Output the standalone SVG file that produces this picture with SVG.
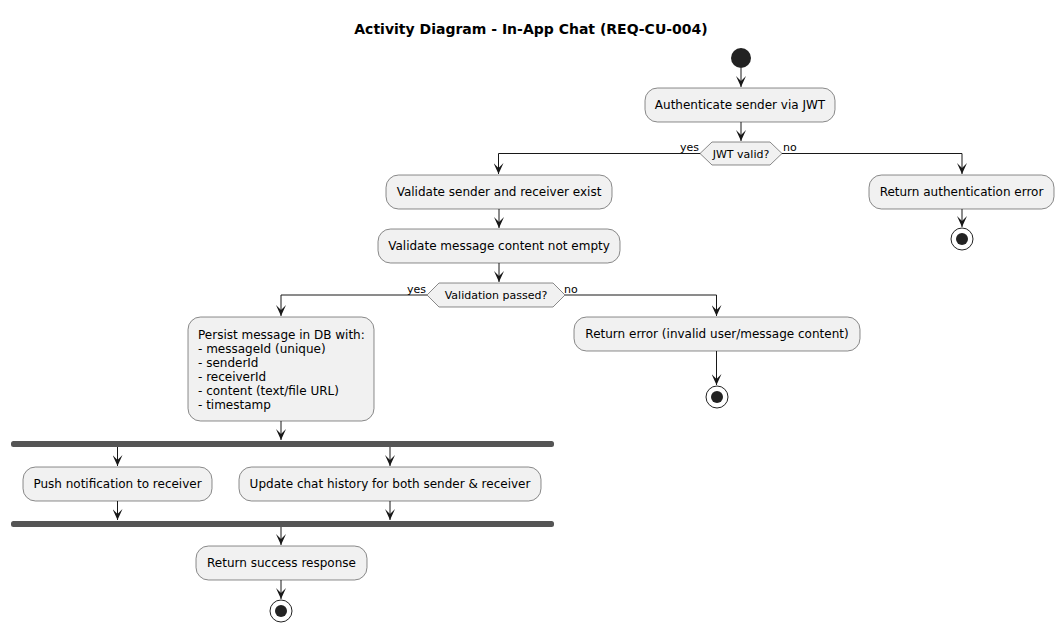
<svg xmlns="http://www.w3.org/2000/svg" width="1064" height="632" viewBox="0 0 1064 632">
<style>
.act{fill:#F1F1F1;stroke:#181818;stroke-width:0.5}
.t{font-family:"DejaVu Sans",sans-serif;font-size:12px;fill:#000}
.c{text-anchor:middle}
.lbl{font-family:"DejaVu Sans",sans-serif;font-size:11px;fill:#000}
.ln{fill:none;stroke:#181818;stroke-width:1}
.bar{fill:#555555}
.st{fill:#222222}
.endo{fill:none;stroke:#222222;stroke-width:1}
</style>
<defs>
<marker id="ah" markerWidth="11" markerHeight="10" refX="11" refY="5" orient="auto" markerUnits="userSpaceOnUse">
<path d="M0,0 L11,5 L0,10 L5,5 Z" fill="#181818"/>
</marker>
</defs>
<rect width="1064" height="632" fill="#FFFFFF"/>
<text x="531" y="34" font-family="DejaVu Sans,sans-serif" font-size="14" font-weight="bold" text-anchor="middle">Activity Diagram - In-App Chat (REQ-CU-004)</text>

<g id="connectors">
<path class="ln" d="M741,68 V87" marker-end="url(#ah)"/>
<path class="ln" d="M741,122 V141" marker-end="url(#ah)"/>
<path class="ln" d="M700,153.5 H498.5 V174" marker-end="url(#ah)"/>
<path class="ln" d="M782,153.5 H962 V174" marker-end="url(#ah)"/>
<path class="ln" d="M962,209 V227" marker-end="url(#ah)"/>
<path class="ln" d="M499,209 V228" marker-end="url(#ah)"/>
<path class="ln" d="M499,263 V282" marker-end="url(#ah)"/>
<path class="ln" d="M427,295 H281 V316" marker-end="url(#ah)"/>
<path class="ln" d="M565,295 H716.5 V316" marker-end="url(#ah)"/>
<path class="ln" d="M716.5,351 V385" marker-end="url(#ah)"/>
<path class="ln" d="M281,421 V440" marker-end="url(#ah)"/>
<path class="ln" d="M117.5,447 V466" marker-end="url(#ah)"/>
<path class="ln" d="M390,447 V466" marker-end="url(#ah)"/>
<path class="ln" d="M117.5,501 V520" marker-end="url(#ah)"/>
<path class="ln" d="M390,501 V520" marker-end="url(#ah)"/>
<path class="ln" d="M281,527 V545" marker-end="url(#ah)"/>
<path class="ln" d="M281,580 V599" marker-end="url(#ah)"/>
<text class="lbl" x="699" y="151" text-anchor="end">yes</text>
<text class="lbl" x="783" y="151">no</text>
<text class="lbl" x="426" y="293" text-anchor="end">yes</text>
<text class="lbl" x="564" y="293">no</text>
</g>

<g id="start"><circle class="st" cx="741" cy="58" r="10"/></g>

<g id="authenticate">
<rect class="act" x="645" y="88" width="190" height="34" rx="12.5"/>
<text class="t c" x="740" y="109">Authenticate sender via JWT</text>
</g>

<g id="jwt-valid">
<polygon class="act" points="700,153.5 712,142 770,142 782,153.5 770,165 712,165"/>
<text class="lbl c" x="741" y="157.5">JWT valid?</text>
</g>

<g id="auth-error">
<rect class="act" x="869" y="175" width="185" height="34" rx="12.5"/>
<text class="t c" x="961.5" y="196">Return authentication error</text>
</g>
<g id="end-auth"><circle class="endo" cx="962" cy="239" r="11"/><circle class="st" cx="962" cy="239" r="6"/></g>

<g id="validate-users">
<rect class="act" x="386" y="175" width="226" height="34" rx="12.5"/>
<text class="t c" x="499" y="196">Validate sender and receiver exist</text>
</g>

<g id="validate-content">
<rect class="act" x="378" y="229" width="242" height="34" rx="12.5"/>
<text class="t c" x="499" y="250">Validate message content not empty</text>
</g>

<g id="validation-passed">
<polygon class="act" points="427,295 439,283 553,283 565,295 553,307 439,307"/>
<text class="lbl c" x="496" y="299">Validation passed?</text>
</g>

<g id="return-error">
<rect class="act" x="574" y="317" width="286" height="34" rx="12.5"/>
<text class="t c" x="717" y="338">Return error (invalid user/message content)</text>
</g>
<g id="end-error"><circle class="endo" cx="717" cy="397" r="11"/><circle class="st" cx="717" cy="397" r="6"/></g>

<g id="persist">
<rect class="act" x="188" y="317" width="186" height="104" rx="12.5"/>
<text class="t" x="198" y="339">Persist message in DB with:</text>
<text class="t" x="198" y="353">- messageId (unique)</text>
<text class="t" x="198" y="367">- senderId</text>
<text class="t" x="198" y="381">- receiverId</text>
<text class="t" x="198" y="395">- content (text/file URL)</text>
<text class="t" x="198" y="409">- timestamp</text>
</g>

<g id="fork"><rect class="bar" x="11" y="441" width="543" height="6" rx="2.5"/></g>

<g id="push">
<rect class="act" x="23" y="467" width="189" height="34" rx="12.5"/>
<text class="t c" x="117.5" y="488">Push notification to receiver</text>
</g>

<g id="update-history">
<rect class="act" x="239" y="467" width="302" height="34" rx="12.5"/>
<text class="t c" x="390" y="488">Update chat history for both sender &amp; receiver</text>
</g>

<g id="join"><rect class="bar" x="11" y="521" width="543" height="6" rx="2.5"/></g>

<g id="success">
<rect class="act" x="196" y="546" width="171" height="34" rx="12.5"/>
<text class="t c" x="281.5" y="567">Return success response</text>
</g>
<g id="end-success"><circle class="endo" cx="281" cy="611" r="11"/><circle class="st" cx="281" cy="611" r="6"/></g>
</svg>
